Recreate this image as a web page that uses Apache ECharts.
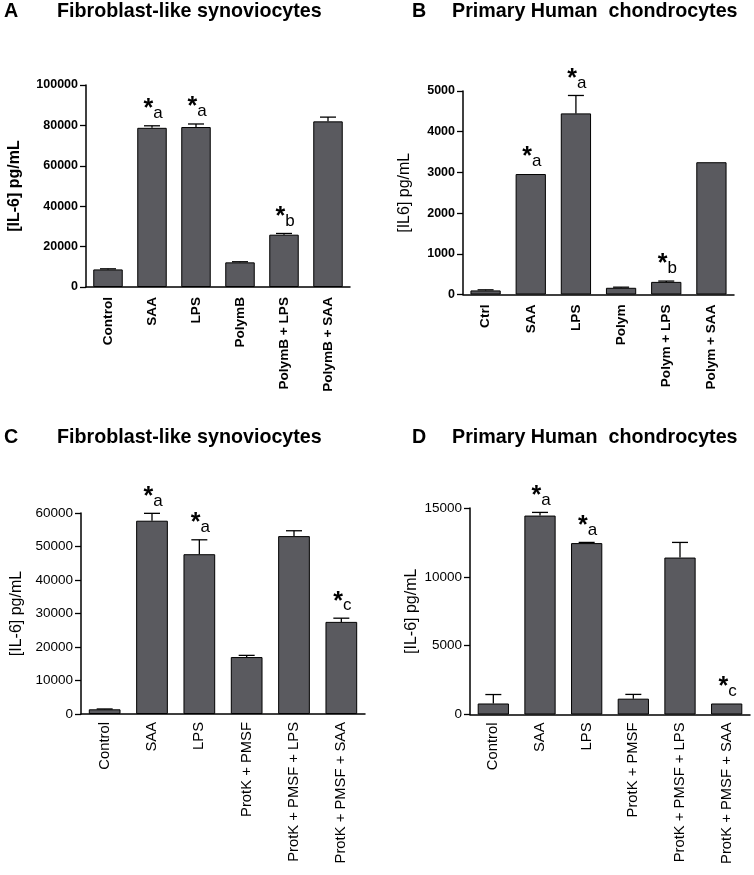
<!DOCTYPE html>
<html>
<head>
<meta charset="utf-8">
<script src="https://cdn.jsdelivr.net/npm/echarts@6/dist/echarts.min.js"></script>
<style>
html,body{margin:0;padding:0;background:#fff;}
#chart{width:754px;height:875px;}
</style>
</head>
<body>
<div id="chart"></div>
<script>
// ---- Panel A: Fibroblast-like synoviocytes ----
const catA = ['Control', 'SAA', 'LPS', 'PolymB', 'PolymB + LPS', 'PolymB + SAA'];
const valA = [8700, 78800, 79200, 12200, 25900, 82000];
const errA = [300, 1000, 1500, 300, 600, 2100];
const sigA = ['', 'a', 'a', '', 'b', ''];
const maxA = 100000, stepA = 20000;

// ---- Panel B: Primary Human chondrocytes ----
const catB = ['Ctrl', 'SAA', 'LPS', 'Polym', 'Polym + LPS', 'Polym + SAA'];
const valB = [100, 2960, 4450, 165, 310, 3250];
const errB = [15, 0, 440, 15, 20, 0];
const sigB = ['', 'a', 'a', '', 'b', ''];
const maxB = 5000, stepB = 1000;

// ---- Panel C: Fibroblast-like synoviocytes ----
const catC = ['Control', 'SAA', 'LPS', 'ProtK + PMSF', 'ProtK + PMSF + LPS', 'ProtK + PMSF + SAA'];
const valC = [1400, 57700, 47700, 17000, 53100, 27500];
const errC = [100, 2200, 4300, 500, 1600, 1100];
const sigC = ['', 'a', 'a', '', '', 'c'];
const maxC = 60000, stepC = 10000;

// ---- Panel D: Primary Human chondrocytes ----
const catD = ['Control', 'SAA', 'LPS', 'ProtK + PMSF', 'ProtK + PMSF + LPS', 'ProtK + PMSF + SAA'];
const valD = [800, 14450, 12450, 1150, 11400, 800];
const errD = [650, 230, 50, 310, 1100, 0];
const sigD = ['', 'a', 'a', '', '', 'c'];
const maxD = 15000, stepD = 5000;

const FONT = '"Liberation Sans", Arial, Helvetica, sans-serif';
const BAR = '#5a5a5f';

const panels = [
  {cat: catA, val: valA, err: errA, sig: sigA, max: maxA, step: stepA,
   grid: {left: 86, top: 85, width: 264, height: 202},
   yName: '[IL-6] pg/mL', yNameBold: true, yNameGap: 63, tickBold: true, tickSize: 12.5,
   catBold: true, catSize: 13.6, catMargin: 10},
  {cat: catB, val: valB, err: errB, sig: sigB, max: maxB, step: stepB,
   grid: {left: 463, top: 91, width: 271, height: 203.5},
   yName: '[IL6] pg/mL', yNameBold: false, yNameGap: 50, tickBold: true, tickSize: 12.5,
   catBold: true, catSize: 13.6, catMargin: 10},
  {cat: catC, val: valC, err: errC, sig: sigC, max: maxC, step: stepC,
   grid: {left: 81, top: 513, width: 284, height: 201},
   yName: '[IL-6] pg/mL', yNameBold: false, yNameGap: 56, tickBold: false, tickSize: 13.5,
   catBold: false, catSize: 14.8, catMargin: 8},
  {cat: catD, val: valD, err: errD, sig: sigD, max: maxD, step: stepD,
   grid: {left: 470, top: 508, width: 280, height: 206.5},
   yName: '[IL-6] pg/mL', yNameBold: false, yNameGap: 50, tickBold: false, tickSize: 13.5,
   catBold: false, catSize: 14.8, catMargin: 8}
];

function makeRender(sig) {
  return function (params, api) {
    const idx = params.dataIndex;
    const x = api.value(0), v = api.value(1), e = api.value(2);
    const base = api.coord([x, v]);
    const tip = api.coord([x, v + e]);
    const children = [];
    if (e > 0) {
      children.push({type: 'line', shape: {x1: base[0], y1: base[1], x2: tip[0], y2: tip[1]},
        style: {stroke: '#000', lineWidth: 1.3}});
      children.push({type: 'line', shape: {x1: tip[0] - 8, y1: tip[1], x2: tip[0] + 8, y2: tip[1]},
        style: {stroke: '#000', lineWidth: 1.3}});
    }
    if (sig[idx]) {
      children.push({type: 'text', style: {
        text: '{s|*}{l|' + sig[idx] + '}',
        x: tip[0] + 1, y: tip[1] - 4,
        align: 'center', verticalAlign: 'bottom',
        rich: {
          s: {fontSize: 25, fontWeight: 'bold', fontFamily: FONT, fill: '#000', verticalAlign: 'bottom'},
          l: {fontSize: 17, fontFamily: FONT, fill: '#000', verticalAlign: 'bottom'}
        }
      }});
    }
    return {type: 'group', children: children};
  };
}

const titleStyle = {fontSize: 19.7, fontWeight: 'bold', color: '#000', fontFamily: FONT};
const option = {
  animation: false,
  backgroundColor: '#fff',
  title: [
    {text: 'A', left: 4, top: 2, padding: 0, textStyle: titleStyle},
    {text: 'Fibroblast-like synoviocytes', left: 57, top: 2, padding: 0, textStyle: titleStyle},
    {text: 'B', left: 412, top: 2, padding: 0, textStyle: titleStyle},
    {text: 'Primary Human  chondrocytes', left: 452, top: 2, padding: 0, textStyle: titleStyle},
    {text: 'C', left: 4, top: 428, padding: 0, textStyle: titleStyle},
    {text: 'Fibroblast-like synoviocytes', left: 57, top: 428, padding: 0, textStyle: titleStyle},
    {text: 'D', left: 412, top: 428, padding: 0, textStyle: titleStyle},
    {text: 'Primary Human  chondrocytes', left: 452, top: 428, padding: 0, textStyle: titleStyle}
  ],
  grid: [], xAxis: [], yAxis: [], series: []
};

panels.forEach(function (p, k) {
  option.grid.push(Object.assign({containLabel: false, outerBoundsMode: 'none'}, p.grid));
  option.xAxis.push({
    type: 'category', gridIndex: k, data: p.cat,
    axisLine: {lineStyle: {color: '#000', width: 1.5}},
    axisTick: {alignWithLabel: true, length: 6, lineStyle: {color: '#000', width: 1.3}},
    axisLabel: {interval: 0, rotate: 90, margin: p.catMargin, color: '#000',
      fontSize: p.catSize, fontWeight: p.catBold ? 'bold' : 'normal', fontFamily: FONT},
    splitLine: {show: false}
  });
  option.yAxis.push({
    type: 'value', gridIndex: k, min: 0, max: p.max, interval: p.step,
    name: p.yName, nameLocation: 'middle', nameGap: p.yNameGap, nameRotate: 90,
    nameTextStyle: {fontSize: 16, fontWeight: p.yNameBold ? 'bold' : 'normal', color: '#000', fontFamily: FONT},
    axisLine: {show: true, lineStyle: {color: '#000', width: 1.5}},
    axisTick: {show: true, length: 6, lineStyle: {color: '#000', width: 1.3}},
    axisLabel: {margin: 8, color: '#000', fontSize: p.tickSize,
      fontWeight: p.tickBold ? 'bold' : 'normal', fontFamily: FONT,
      formatter: function (v) { return String(v); }},
    splitLine: {show: false}
  });
  option.series.push({
    type: 'bar', xAxisIndex: k, yAxisIndex: k, data: p.val, barWidth: '67%',
    itemStyle: {color: BAR, borderColor: '#000', borderWidth: 1},
    z: 2
  });
  option.series.push({
    type: 'custom', xAxisIndex: k, yAxisIndex: k,
    data: p.val.map(function (v, i) { return [i, v, p.err[i]]; }),
    encode: {x: 0, y: 1},
    renderItem: makeRender(p.sig),
    z: 3
  });
});

const chart = echarts.init(document.getElementById('chart'), null, {renderer: 'canvas'});
chart.setOption(option);
</script>
</body>
</html>
